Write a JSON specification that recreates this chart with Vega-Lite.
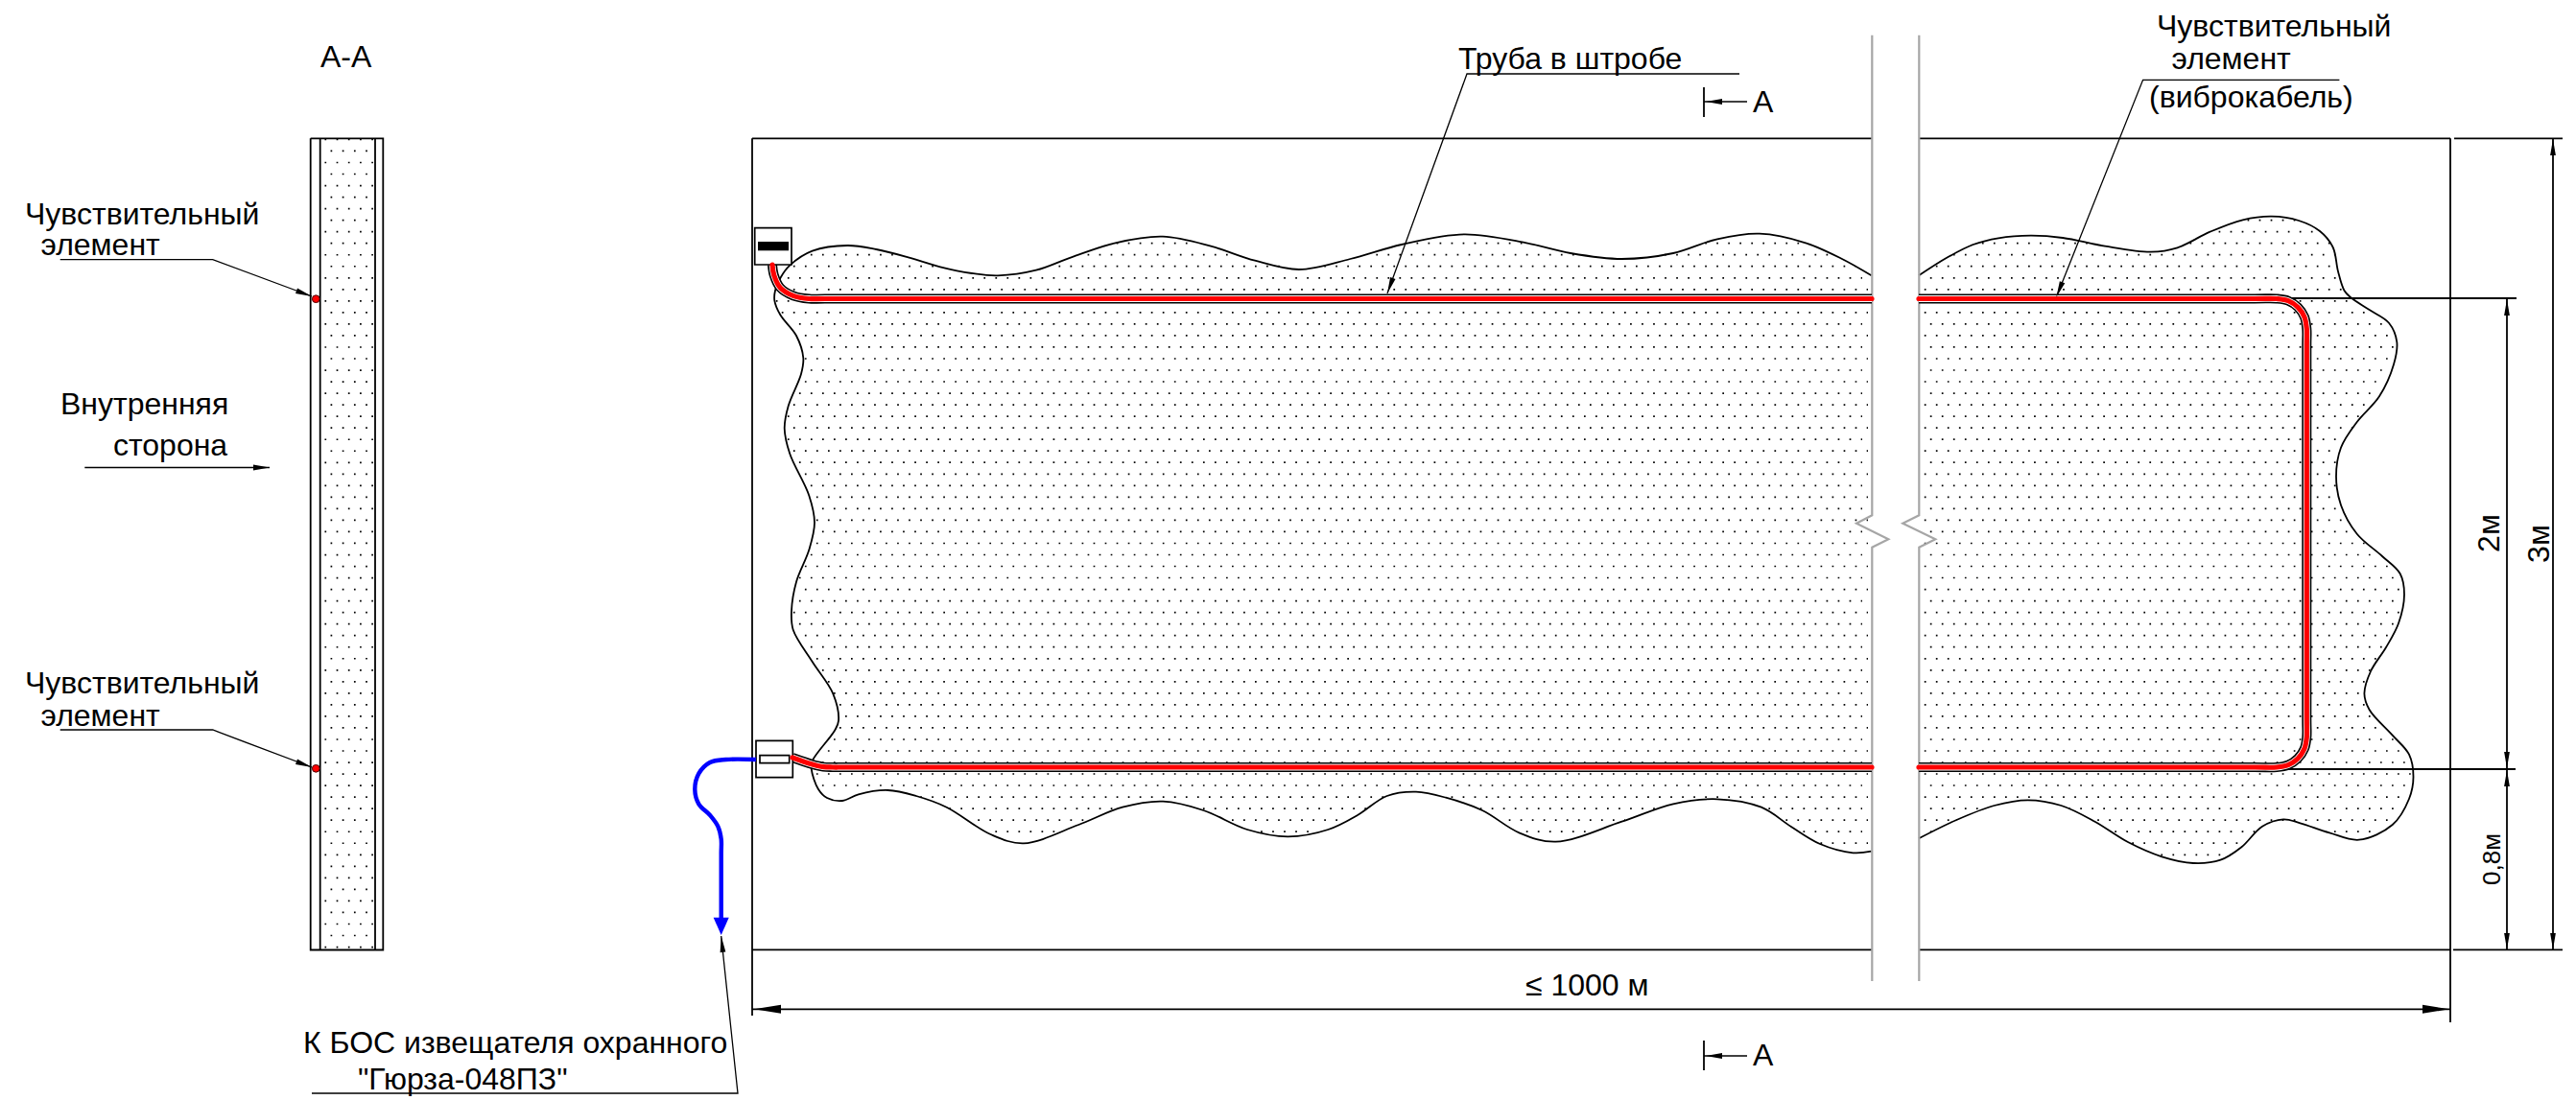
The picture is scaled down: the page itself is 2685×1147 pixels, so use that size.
{"$schema":"https://vega.github.io/schema/vega-lite/v6.json","width":2685,"height":1147,"padding":0,"autosize":{"type":"fit","contains":"padding"},"background":"white","config":{"view":{"stroke":null}},
"encoding":{"x":{"field":"x","type":"quantitative","axis":null,"scale":{"domain":[0,2685],"nice":false,"zero":false}},"y":{"field":"y","type":"quantitative","axis":null,"scale":{"domain":[1147,0],"nice":false,"zero":false}}},
"layer":[
{"data":{"values":[
{"y":229.6,"x":2342.6,"x2":2395},{"y":241.6,"x":2312.6,"x2":2419},
{"y":253.7,"x":1163.7,"x2":1246},{"y":253.7,"x":1476.5,"x2":1590},{"y":253.7,"x":1777.2,"x2":1884},{"y":253.7,"x":2065.9,"x2":2178},{"y":253.7,"x":2282.5,"x2":2429},
{"y":265.7,"x":844.9,"x2":940},{"y":265.7,"x":1133.6,"x2":1289},{"y":265.7,"x":1434.4,"x2":1651},{"y":265.7,"x":1735.1,"x2":1911},{"y":265.7,"x":2035.9,"x2":2434},
{"y":277.7,"x":826.9,"x2":979},{"y":277.7,"x":1103.5,"x2":1338},{"y":277.7,"x":1380.2,"x2":1934},{"y":277.7,"x":2017.8,"x2":2436},
{"y":289.8,"x":820.9,"x2":1941},{"y":301.8,"x":814.8,"x2":1947},{"y":313.8,"x":808.8,"x2":1941},{"y":325.9,"x":814.8,"x2":1947},{"y":337.9,"x":832.9,"x2":1941},{"y":349.9,"x":838.9,"x2":1947},{"y":361.9,"x":844.9,"x2":1941},{"y":374,"x":838.9,"x2":1947},{"y":386,"x":844.9,"x2":1941},{"y":398,"x":838.9,"x2":1947},{"y":410.1,"x":832.9,"x2":1941},{"y":422.1,"x":826.9,"x2":1947},{"y":434.1,"x":820.9,"x2":1941},{"y":446.2,"x":826.9,"x2":1947},{"y":458.2,"x":820.9,"x2":1941},{"y":470.2,"x":826.9,"x2":1947},{"y":482.2,"x":832.9,"x2":1941},{"y":494.3,"x":838.9,"x2":1947},{"y":506.3,"x":844.9,"x2":1941},{"y":518.3,"x":850.9,"x2":1947},{"y":530.4,"x":856.9,"x2":1941},{"y":542.4,"x":850.9,"x2":1947},{"y":554.4,"x":856.9,"x2":1941},{"y":566.5,"x":850.9,"x2":1947},{"y":578.5,"x":844.9,"x2":1941},{"y":590.5,"x":838.9,"x2":1947},{"y":602.5,"x":832.9,"x2":1941},{"y":614.6,"x":838.9,"x2":1947},{"y":626.6,"x":832.9,"x2":1941},{"y":638.6,"x":826.9,"x2":1947},{"y":650.7,"x":832.9,"x2":1941},{"y":662.7,"x":838.9,"x2":1947},{"y":674.7,"x":844.9,"x2":1941},{"y":686.8,"x":850.9,"x2":1947},{"y":698.8,"x":856.9,"x2":1941},{"y":710.8,"x":862.9,"x2":1947},{"y":722.8,"x":869,"x2":1941},{"y":734.9,"x":875,"x2":1947},{"y":746.9,"x":881,"x2":1941},{"y":758.9,"x":875,"x2":1947},{"y":771,"x":869,"x2":1941},{"y":783,"x":862.9,"x2":1947},{"y":795,"x":856.9,"x2":1941},{"y":807,"x":850.9,"x2":1947},{"y":819,"x":856.9,"x2":1941},
{"y":831.1,"x":959.2,"x2":1444},{"y":831.1,"x":1512.6,"x2":1947},
{"y":843.1,"x":989.3,"x2":1168},{"y":843.1,"x":1253.9,"x2":1426},{"y":843.1,"x":1542.7,"x2":1730},{"y":843.1,"x":1843.4,"x2":1941},
{"y":855.2,"x":1019.3,"x2":1136},{"y":855.2,"x":1284,"x2":1404},{"y":855.2,"x":1572.7,"x2":1694},{"y":855.2,"x":1861.4,"x2":1947},
{"y":867.2,"x":1037.4,"x2":1102},{"y":867.2,"x":1314.1,"x2":1372},{"y":867.2,"x":1590.8,"x2":1658},{"y":867.2,"x":1879.5,"x2":1941},
{"y":879.2,"x":1897.5,"x2":1947},
{"y":289.8,"x":2011.8,"x2":2439},{"y":301.8,"x":2005.8,"x2":2443},{"y":313.8,"x":2011.8,"x2":2456},{"y":325.9,"x":2005.8,"x2":2474},{"y":337.9,"x":2011.8,"x2":2490},{"y":349.9,"x":2005.8,"x2":2496},{"y":361.9,"x":2011.8,"x2":2497},{"y":374,"x":2005.8,"x2":2496},{"y":386,"x":2011.8,"x2":2492},{"y":398,"x":2005.8,"x2":2487},{"y":410.1,"x":2011.8,"x2":2481},{"y":422.1,"x":2005.8,"x2":2472},{"y":434.1,"x":2011.8,"x2":2462},{"y":446.2,"x":2005.8,"x2":2453},{"y":458.2,"x":2011.8,"x2":2445},{"y":470.2,"x":2005.8,"x2":2439},{"y":482.2,"x":2011.8,"x2":2437},{"y":494.3,"x":2005.8,"x2":2435},{"y":506.3,"x":2011.8,"x2":2436},{"y":518.3,"x":2005.8,"x2":2438},{"y":530.4,"x":2011.8,"x2":2441},{"y":542.4,"x":2005.8,"x2":2449},{"y":554.4,"x":2011.8,"x2":2455},{"y":566.5,"x":2005.8,"x2":2467},{"y":578.5,"x":2011.8,"x2":2481},{"y":590.5,"x":2005.8,"x2":2494},{"y":602.5,"x":2011.8,"x2":2503},{"y":614.6,"x":2005.8,"x2":2505},{"y":626.6,"x":2011.8,"x2":2505},{"y":638.6,"x":2005.8,"x2":2502},{"y":650.7,"x":2011.8,"x2":2499},{"y":662.7,"x":2005.8,"x2":2494},{"y":674.7,"x":2011.8,"x2":2487},{"y":686.8,"x":2005.8,"x2":2480},{"y":698.8,"x":2011.8,"x2":2472},{"y":710.8,"x":2005.8,"x2":2468},{"y":722.8,"x":2011.8,"x2":2464},{"y":734.9,"x":2005.8,"x2":2467},{"y":746.9,"x":2011.8,"x2":2476},{"y":758.9,"x":2005.8,"x2":2487},{"y":771,"x":2011.8,"x2":2497},{"y":783,"x":2005.8,"x2":2507},{"y":795,"x":2011.8,"x2":2512},{"y":807,"x":2005.8,"x2":2515},{"y":819,"x":2011.8,"x2":2514},{"y":831.1,"x":2005.8,"x2":2511},
{"y":843.1,"x":2011.8,"x2":2071},{"y":843.1,"x":2156.2,"x2":2505},{"y":855.2,"x":2005.8,"x2":2039},{"y":855.2,"x":2186.2,"x2":2497},{"y":867.2,"x":2011.8,"x2":2015},{"y":867.2,"x":2204.3,"x2":2353},{"y":867.2,"x":2432.9,"x2":2479},{"y":879.2,"x":2222.3,"x2":2340},{"y":891.3,"x":2252.4,"x2":2325}
]},"mark":{"type":"rule","stroke":"#000","strokeWidth":1.7,"strokeDash":[1.7,10.33]},"encoding":{"x2":{"field":"x2"}}},
{"data":{"values":[
{"x":339.3,"y":144.6,"y2":990},{"x":351.5,"y":144.6,"y2":990},{"x":363.7,"y":144.6,"y2":990},{"x":375.9,"y":144.6,"y2":990},{"x":388.1,"y":144.6,"y2":990},
{"x":345.4,"y":156.6,"y2":990},{"x":357.6,"y":156.6,"y2":990},{"x":369.8,"y":156.6,"y2":990},{"x":382,"y":156.6,"y2":990}
]},"mark":{"type":"rule","stroke":"#000","strokeWidth":1.7,"strokeDash":[1.7,22.36]},"encoding":{"y2":{"field":"y2"}}},
{"data":{"values":[
{"p":"L","x":1950.6,"y":287.3},{"p":"L","x":1920,"y":270},{"p":"L","x":1882,"y":253.3},{"p":"L","x":1834,"y":243.7},{"p":"L","x":1790,"y":249.3},{"p":"L","x":1744,"y":264},{"p":"L","x":1690.5,"y":270},{"p":"L","x":1637,"y":264},{"p":"L","x":1591,"y":253.3},{"p":"L","x":1526,"y":244.3},{"p":"L","x":1461,"y":255},{"p":"L","x":1407.4,"y":270},{"p":"L","x":1354,"y":281},{"p":"L","x":1308,"y":271.7},{"p":"L","x":1262,"y":256.7},{"p":"L","x":1212,"y":246.7},{"p":"L","x":1162.6,"y":253.3},{"p":"L","x":1116.6,"y":268.3},{"p":"L","x":1080,"y":281.7},{"p":"L","x":1040,"y":287.3},{"p":"L","x":1013,"y":285},{"p":"L","x":980,"y":278.3},{"p":"L","x":946.7,"y":268.3},{"p":"L","x":913.3,"y":260},{"p":"L","x":883.3,"y":256},{"p":"L","x":846.7,"y":261.7},{"p":"L","x":823.3,"y":276.7},{"p":"L","x":813.3,"y":290},{"p":"L","x":808,"y":303},{"p":"L","x":807.3,"y":313.3},{"p":"L","x":813.3,"y":328.3},{"p":"L","x":830,"y":350},{"p":"L","x":837.3,"y":373.3},{"p":"L","x":835,"y":390},{"p":"L","x":821.7,"y":423.3},{"p":"L","x":817.7,"y":446.7},{"p":"L","x":823.3,"y":473.3},{"p":"L","x":843.3,"y":516.7},{"p":"L","x":849,"y":545},{"p":"L","x":843.3,"y":573.3},{"p":"L","x":830,"y":606.7},{"p":"L","x":825,"y":636.7},{"p":"L","x":826.7,"y":656.7},{"p":"L","x":846.7,"y":690},{"p":"L","x":868.3,"y":723.3},{"p":"L","x":874,"y":751.7},{"p":"L","x":870,"y":761.7},{"p":"L","x":846.7,"y":793.3},{"p":"L","x":845.7,"y":801.7},{"p":"L","x":853,"y":823},{"p":"L","x":862,"y":832},{"p":"L","x":878,"y":835},{"p":"L","x":894.8,"y":828.3},{"p":"L","x":925.4,"y":824},{"p":"L","x":955,"y":830},{"p":"L","x":986.6,"y":841.7},{"p":"L","x":1032.5,"y":870},{"p":"L","x":1067,"y":879.3},{"p":"L","x":1124.3,"y":860},{"p":"L","x":1170,"y":841.7},{"p":"L","x":1212.3,"y":835.7},{"p":"L","x":1254.4,"y":845},{"p":"L","x":1300,"y":865},{"p":"L","x":1342.4,"y":872.3},{"p":"L","x":1384.4,"y":865},{"p":"L","x":1415,"y":850},{"p":"L","x":1445.6,"y":830},{"p":"L","x":1476,"y":825.7},{"p":"L","x":1507,"y":831.7},{"p":"L","x":1545,"y":845},{"p":"L","x":1583.4,"y":868.3},{"p":"L","x":1621.6,"y":877.7},{"p":"L","x":1690.5,"y":856.7},{"p":"L","x":1744,"y":838.3},{"p":"L","x":1790,"y":833.3},{"p":"L","x":1835.8,"y":841.7},{"p":"L","x":1866.5,"y":861.7},{"p":"L","x":1897,"y":880},{"p":"L","x":1931.5,"y":889.3},{"p":"L","x":1950.6,"y":887.7},
{"p":"R","x":2000,"y":287.3},{"p":"R","x":2030,"y":268.3},{"p":"R","x":2056.7,"y":255},{"p":"R","x":2083,"y":248.3},{"p":"R","x":2116.7,"y":245.7},{"p":"R","x":2150,"y":248},{"p":"R","x":2194,"y":256.7},{"p":"R","x":2242,"y":262.7},{"p":"R","x":2269.5,"y":258.3},{"p":"R","x":2303.6,"y":241.7},{"p":"R","x":2337.7,"y":229.3},{"p":"R","x":2368,"y":225.7},{"p":"R","x":2396,"y":230},{"p":"R","x":2418,"y":241},{"p":"R","x":2431.7,"y":258},{"p":"R","x":2437,"y":283},{"p":"R","x":2443.5,"y":303},{"p":"R","x":2450,"y":310},{"p":"R","x":2470,"y":323.3},{"p":"R","x":2490,"y":336.7},{"p":"R","x":2498.3,"y":356.7},{"p":"R","x":2495,"y":380},{"p":"R","x":2480,"y":413.3},{"p":"R","x":2456.7,"y":440},{"p":"R","x":2440,"y":466.7},{"p":"R","x":2435,"y":496.7},{"p":"R","x":2440,"y":526.7},{"p":"R","x":2456.7,"y":556.7},{"p":"R","x":2483,"y":580},{"p":"R","x":2501.7,"y":598.3},{"p":"R","x":2506,"y":620},{"p":"R","x":2500,"y":650},{"p":"R","x":2487,"y":675},{"p":"R","x":2471,"y":700},{"p":"R","x":2464.4,"y":723.3},{"p":"R","x":2469.6,"y":740},{"p":"R","x":2493.7,"y":766.7},{"p":"R","x":2511,"y":786.7},{"p":"R","x":2515.5,"y":810},{"p":"R","x":2511,"y":833},{"p":"R","x":2493.7,"y":860},{"p":"R","x":2458.7,"y":875.7},{"p":"R","x":2428,"y":868.3},{"p":"R","x":2397.5,"y":858.3},{"p":"R","x":2380,"y":854.3},{"p":"R","x":2358,"y":861.7},{"p":"R","x":2336.4,"y":883.3},{"p":"R","x":2314.5,"y":896.7},{"p":"R","x":2286,"y":900},{"p":"R","x":2253.4,"y":893.3},{"p":"R","x":2218.4,"y":878.3},{"p":"R","x":2183.5,"y":856.7},{"p":"R","x":2148.5,"y":840},{"p":"R","x":2113.6,"y":834.3},{"p":"R","x":2078.6,"y":840},{"p":"R","x":2039.3,"y":855},{"p":"R","x":2000,"y":874.3}
]},"transform":[{"window":[{"op":"row_number","as":"i"}]}],"mark":{"type":"line","interpolate":"catmull-rom","stroke":"#000","strokeWidth":1.8},"encoding":{"detail":{"field":"p"},"order":{"field":"i","type":"quantitative"}}},
{"data":{"values":[
{"p":"fl","x":784,"y":144.3},{"p":"fl","x":784,"y":1059},
{"p":"ft1","x":784,"y":144.3},{"p":"ft1","x":1951,"y":144.3},{"p":"ft2","x":2000,"y":144.3},{"p":"ft2","x":2554,"y":144.3},
{"p":"fb1","x":784,"y":990.3},{"p":"fb1","x":1951,"y":990.3},{"p":"fb2","x":2000,"y":990.3},{"p":"fb2","x":2554,"y":990.3},
{"p":"fr","x":2554,"y":144.3},{"p":"fr","x":2554,"y":1066},
{"p":"dh","x":784,"y":1052.3},{"p":"dh","x":2554,"y":1052.3},
{"p":"e1","x":2558,"y":144.3},{"p":"e1","x":2671,"y":144.3},{"p":"e2","x":2557,"y":990.3},{"p":"e2","x":2671,"y":990.3},
{"p":"e3","x":2365,"y":311},{"p":"e3","x":2623,"y":311},{"p":"e4","x":2366,"y":802},{"p":"e4","x":2622,"y":802},
{"p":"v1","x":2613,"y":311},{"p":"v1","x":2613,"y":990.3},{"p":"v2","x":2661,"y":144.3},{"p":"v2","x":2661,"y":990.3},
{"p":"s1","x":323.7,"y":144.3},{"p":"s1","x":399.3,"y":144.3},{"p":"s1","x":399.3,"y":990.5},{"p":"s1","x":323.7,"y":990.5},{"p":"s1","x":323.7,"y":144.3},
{"p":"s2","x":333.7,"y":144.3},{"p":"s2","x":333.7,"y":990.5},{"p":"s3","x":391,"y":144.3},{"p":"s3","x":391,"y":990.5},
{"p":"m1","x":1776,"y":91},{"p":"m1","x":1776,"y":122},{"p":"m2","x":1776,"y":1085},{"p":"m2","x":1776,"y":1116}
]},"transform":[{"window":[{"op":"row_number","as":"i"}]}],"mark":{"type":"line","stroke":"#000","strokeWidth":1.8},"encoding":{"detail":{"field":"p"},"order":{"field":"i","type":"quantitative"}}},
{"data":{"values":[
{"p":"a","x":62.7,"y":270.7},{"p":"a","x":221.7,"y":270.7},{"p":"a","x":325,"y":309},
{"p":"b","x":62.7,"y":761},{"p":"b","x":221.7,"y":761},{"p":"b","x":325,"y":800},
{"p":"c","x":88.3,"y":487.5},{"p":"c","x":281,"y":487.5},
{"p":"d","x":1813,"y":77},{"p":"d","x":1529,"y":77},{"p":"d","x":1446,"y":306},
{"p":"e","x":2438.4,"y":83.3},{"p":"e","x":2233.6,"y":83.3},{"p":"e","x":2143.3,"y":310},
{"p":"f","x":325,"y":1140},{"p":"f","x":769,"y":1140},{"p":"f","x":751.7,"y":976},
{"p":"g","x":1776,"y":106},{"p":"g","x":1821,"y":106},{"p":"h","x":1776,"y":1101},{"p":"h","x":1821,"y":1101}
]},"transform":[{"window":[{"op":"row_number","as":"i"}]}],"mark":{"type":"line","stroke":"#000","strokeWidth":1.3},"encoding":{"detail":{"field":"p"},"order":{"field":"i","type":"quantitative"}}},
{"data":{"values":[
{"p":"l","x":1951.3,"y":36.7},{"p":"l","x":1951.3,"y":537.3},{"p":"l","x":1935,"y":545.7},{"p":"l","x":1968.3,"y":562.3},{"p":"l","x":1951.3,"y":570.7},{"p":"l","x":1951.3,"y":1023},
{"p":"r","x":2000.3,"y":36.7},{"p":"r","x":2000.3,"y":537.3},{"p":"r","x":1983.3,"y":545.7},{"p":"r","x":2017.3,"y":562.3},{"p":"r","x":2000.3,"y":570.7},{"p":"r","x":2000.3,"y":1023}
]},"transform":[{"window":[{"op":"row_number","as":"i"}]}],"mark":{"type":"line","stroke":"#a6a6a6","strokeWidth":2.2},"encoding":{"detail":{"field":"p"},"order":{"field":"i","type":"quantitative"}}},
{"data":{"name":"tube","values":[
{"p":"t1","x":805,"y":276},{"p":"t1","x":806.7,"y":286.7},{"p":"t1","x":813.3,"y":300},{"p":"t1","x":826.7,"y":308.3},{"p":"t1","x":843.3,"y":311.5},{"p":"t1","x":860,"y":311.5},{"p":"t1","x":1951,"y":311.5},
{"p":"t2","x":2000,"y":311.5},{"p":"t2","x":2350,"y":311.5},{"p":"t2","x":2373,"y":311.5},{"p":"t2","x":2385,"y":313.6},{"p":"t2","x":2395.1,"y":320.3},{"p":"t2","x":2401.9,"y":330.4},{"p":"t2","x":2404.3,"y":342.8},{"p":"t2","x":2404.3,"y":360},{"p":"t2","x":2404.3,"y":750},{"p":"t2","x":2404.3,"y":768.7},{"p":"t2","x":2401.9,"y":780.7},{"p":"t2","x":2395.1,"y":790.8},{"p":"t2","x":2385,"y":797.6},{"p":"t2","x":2373,"y":800},{"p":"t2","x":2350,"y":800},{"p":"t2","x":2000,"y":800},
{"p":"t3","x":1951,"y":800},{"p":"t3","x":880,"y":800},{"p":"t3","x":868,"y":800},{"p":"t3","x":858,"y":799.6},{"p":"t3","x":846.7,"y":797},{"p":"t3","x":826,"y":790}
]},"transform":[{"window":[{"op":"row_number","as":"i"}]}],"mark":{"type":"line","interpolate":"catmull-rom","stroke":"#000","strokeWidth":10},"encoding":{"detail":{"field":"p"},"order":{"field":"i","type":"quantitative"}}},
{"data":{"name":"tube"},"transform":[{"window":[{"op":"row_number","as":"i"}]}],"mark":{"type":"line","interpolate":"catmull-rom","stroke":"#fff","strokeWidth":6.8},"encoding":{"detail":{"field":"p"},"order":{"field":"i","type":"quantitative"}}},
{"data":{"values":[{"x":786.7,"x2":825,"y":237.7,"y2":276},{"x":788,"x2":826.3,"y":772.3,"y2":810.7},{"x":792,"x2":822.7,"y":787.7,"y2":795.7}]},"mark":{"type":"rect","fill":"#fff","stroke":"#000","strokeWidth":1.7},"encoding":{"x2":{"field":"x2"},"y2":{"field":"y2"}}},
{"data":{"values":[{"x":790,"x2":822,"y":252,"y2":261.3}]},"mark":{"type":"rect","fill":"#000"},"encoding":{"x2":{"field":"x2"},"y2":{"field":"y2"}}},
{"data":{"name":"tube"},"transform":[{"window":[{"op":"row_number","as":"i"}]}],"mark":{"type":"line","interpolate":"catmull-rom","stroke":"#ff0000","strokeWidth":5.2,"strokeCap":"round"},"encoding":{"detail":{"field":"p"},"order":{"field":"i","type":"quantitative"}}},
{"data":{"values":[{"x":788,"y":792},{"x":756.7,"y":792},{"x":740,"y":795},{"x":728.3,"y":806.7},{"x":724.3,"y":823.3},{"x":728.3,"y":838.3},{"x":740,"y":850},{"x":748.3,"y":861.7},{"x":751.7,"y":875},{"x":751.7,"y":890},{"x":751.7,"y":960}]},"transform":[{"window":[{"op":"row_number","as":"i"}]}],"mark":{"type":"line","interpolate":"catmull-rom","stroke":"#0000ff","strokeWidth":4.4},"encoding":{"order":{"field":"i","type":"quantitative"}}},
{"data":{"values":[{"x":751.7,"y":975,"a":180}]},"mark":{"type":"point","filled":true,"shape":"M0,0L0.44,1L-0.44,1Z","size":1340,"fill":"#0000ff","opacity":1},"encoding":{"angle":{"field":"a","type":"quantitative","scale":null}}},
{"data":{"values":[{"x":786,"y":1052.3,"a":270},{"x":2553,"y":1052.3,"a":90}]},"mark":{"type":"point","filled":true,"shape":"M0,0L0.16,1L-0.16,1Z","size":3136,"fill":"#000","opacity":1},"encoding":{"angle":{"field":"a","type":"quantitative","scale":null}}},
{"data":{"values":[{"x":325,"y":309,"a":110},{"x":325,"y":800,"a":110},{"x":281,"y":487.5,"a":90},{"x":1446,"y":306,"a":200},{"x":2143.3,"y":310,"a":201.6},{"x":751.7,"y":976,"a":354},{"x":2613,"y":312,"a":0},{"x":2613,"y":801,"a":180},{"x":2613,"y":803,"a":0},{"x":2613,"y":990,"a":180},{"x":2661,"y":145,"a":0},{"x":2661,"y":990,"a":180},{"x":1778,"y":106,"a":270},{"x":1778,"y":1101,"a":270}]},"mark":{"type":"point","filled":true,"shape":"M0,0L0.17,1L-0.17,1Z","size":1156,"fill":"#000","opacity":1},"encoding":{"angle":{"field":"a","type":"quantitative","scale":null}}},
{"data":{"values":[{"x":329.3,"y":311.7},{"x":329.3,"y":801.3}]},"mark":{"type":"point","filled":true,"shape":"circle","size":60,"fill":"#ff0000","stroke":"#4a0000","strokeWidth":1,"opacity":1}},
{"data":{"values":[
{"t":"А-А","x":334,"y":69.6},
{"t":"Чувствительный","x":26,"y":233.5},{"t":"элемент","x":42.5,"y":266},
{"t":"Внутренняя","x":63,"y":432},{"t":"сторона","x":118,"y":475},
{"t":"Чувствительный","x":26,"y":723.3},{"t":"элемент","x":42.5,"y":756.7},
{"t":"Труба в штробе","x":1520,"y":72},
{"t":"Чувствительный","x":2248,"y":38.3},{"t":"элемент","x":2263.5,"y":71.7},{"t":"(виброкабель)","x":2240,"y":111.7},
{"t":"А","x":1827,"y":116.5},{"t":"А","x":1827,"y":1111},
{"t":"≤ 1000 м","x":1590,"y":1037.5},
{"t":"К БОС извещателя охранного","x":316,"y":1097.5},{"t":"\"Гюрза-048ПЗ\"","x":373,"y":1136}
]},"mark":{"type":"text","font":"Liberation Sans","fontSize":32,"align":"left","baseline":"alphabetic","fill":"#000"},"encoding":{"text":{"field":"t"}}},
{"data":{"values":[{"t":"2м","x":2605,"y":556},{"t":"3м","x":2656.7,"y":567}]},"mark":{"type":"text","font":"Liberation Sans","fontSize":32,"align":"center","baseline":"alphabetic","angle":270,"fill":"#000"},"encoding":{"text":{"field":"t"}}},
{"data":{"values":[{"t":"0,8м","x":2606,"y":896}]},"mark":{"type":"text","font":"Liberation Sans","fontSize":26,"align":"center","baseline":"alphabetic","angle":270,"fill":"#000"},"encoding":{"text":{"field":"t"}}}
]}
